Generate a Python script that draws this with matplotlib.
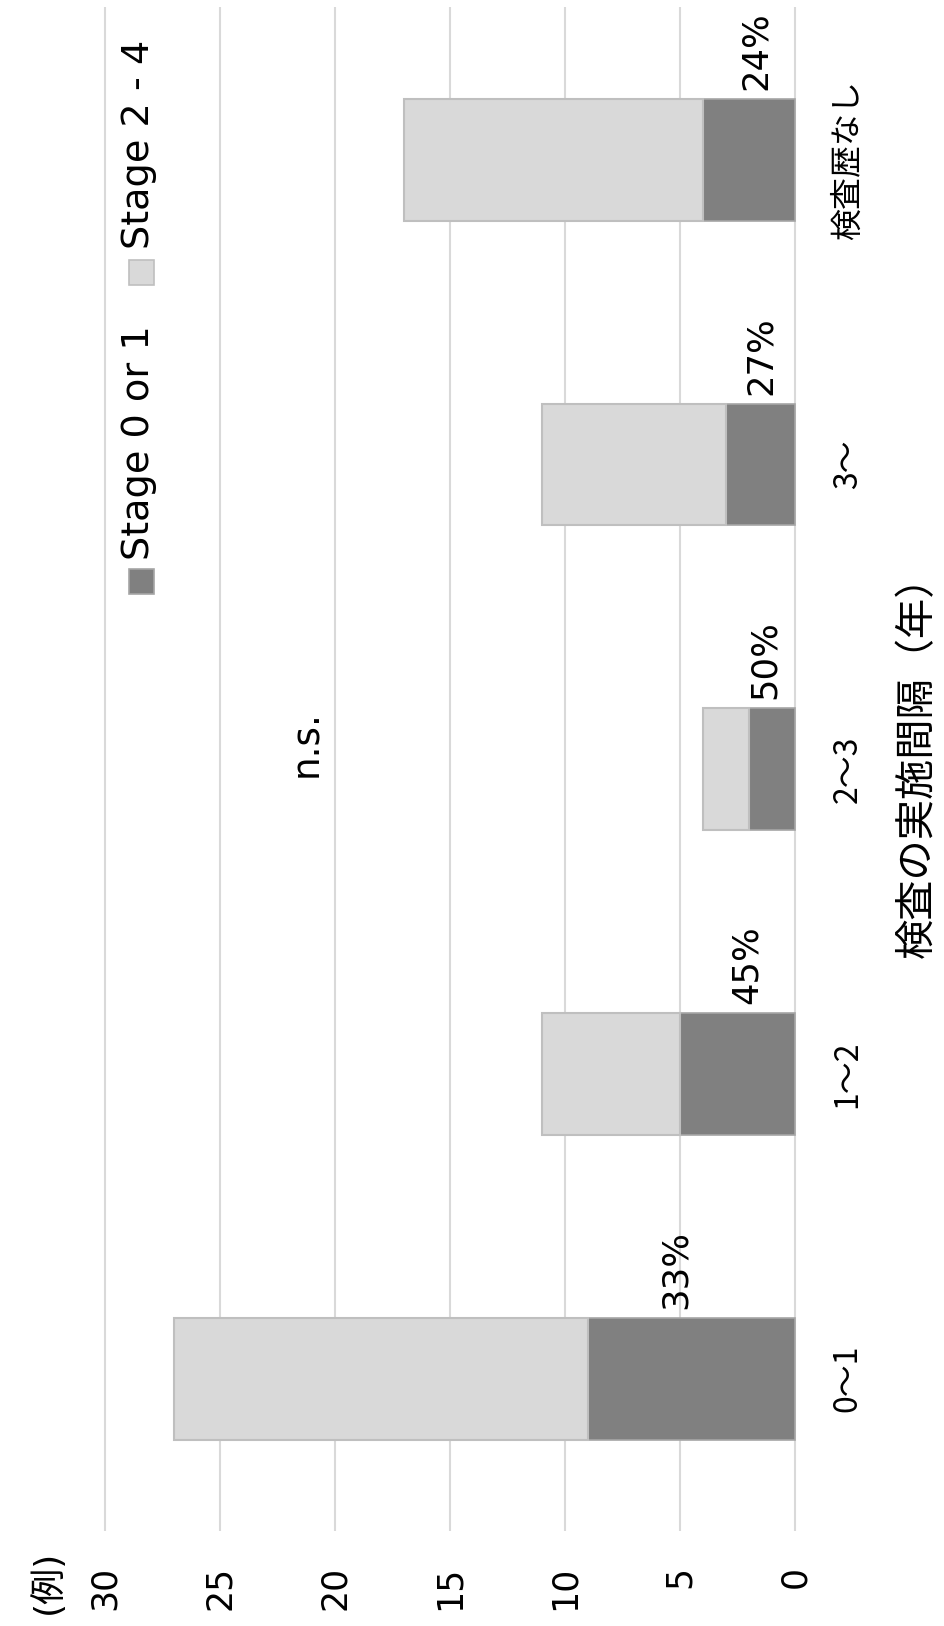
import matplotlib
matplotlib.use("Agg")
import matplotlib.pyplot as plt
from matplotlib.patches import Rectangle
import numpy as np

plt.rcParams['font.family'] = ['DejaVu Sans', 'Noto Sans CJK JP']

# Data
categories = ['0～1', '1～2', '2～3', '3～', '検査歴なし']
series_names = ['Stage 0 or 1', 'Stage 2 - 4']
early = [9, 5, 2, 3, 4]        # Stage 0 or 1
advanced = [18, 6, 2, 8, 13]   # Stage 2 - 4
value_ticks = [0, 5, 10, 15, 20, 25, 30]
# where each percentage label sits along the value axis
pct_label_x = [5.2, 2.1, 1.3, 1.5, 1.7]

W, H = 944, 1626
fig = plt.figure(figsize=(W / 100, H / 100), dpi=100)


def fx(x):
    return x / W


def fy(y):
    return 1 - y / H


# Axes laid out sideways: values run right-to-left, categories bottom-to-top
x30, x0 = 105, 795
ytop, ybot = 7.5, 1531
ax = fig.add_axes([fx(x30 - 2), fy(ybot), fx(x0 - x30 + 4), (ybot - ytop) / H])
span = 30 / (x0 - x30) * 2
ax.set_xlim(30 + span, 0 - span)
ax.set_ylim(-0.5, 4.5)

dark_c, light_c = '#808080', '#d9d9d9'
pos = np.arange(len(categories))
ax.barh(pos, early, height=0.4, color=dark_c, edgecolor='#a6a6a6', linewidth=1.2,
        label=series_names[0], zorder=3)
ax.barh(pos, advanced, left=early, height=0.4, color=light_c, edgecolor='#bfbfbf',
        linewidth=1.5, label=series_names[1], zorder=3)

for s in ax.spines.values():
    s.set_visible(False)
ax.set_xticks(value_ticks)
ax.set_xticklabels([str(v) for v in value_ticks], rotation=90, fontsize=25)
ax.tick_params(axis='x', length=0, pad=25)
ax.grid(axis='x', color='#d9d9d9', linewidth=1.5, zorder=0)
ax.set_axisbelow(True)

ax.yaxis.tick_right()
ax.set_yticks(pos)
ax.set_yticklabels(categories, rotation=90, fontsize=23, va='center',
                   family='Noto Sans CJK JP')
ax.tick_params(axis='y', length=0, pad=25)

# Share of Stage 0 or 1 per interval
for i, (a, b) in enumerate(zip(early, advanced)):
    pct = round(a / (a + b) * 100)
    ax.annotate(f'{pct}%', xy=(pct_label_x[i], i + 0.2), xytext=(0, 6.5),
                textcoords='offset points', rotation=90, ha='center', va='bottom',
                fontsize=25.5)

ax.text(21.2, 2.085, 'n.s.', rotation=90, ha='center', va='center', fontsize=27)

# Axis titles
fig.text(fx(918), fy(757), '検査の実施間隔（年）', rotation=90, ha='center', va='center',
         fontsize=29)
fig.text(fx(47), fy(1582), '(例)', rotation=90, ha='center', va='center', fontsize=26)

# Legend drawn sideways
legend_items = [(series_names[0], dark_c, '#a6a6a6', 594, 560),
                (series_names[1], light_c, '#bfbfbf', 285, 249)]
for name, fc, ec, sq_bottom, txt_bottom in legend_items:
    fig.patches.append(Rectangle((fx(129), fy(sq_bottom)), fx(25), 25 / H,
                                 facecolor=fc, edgecolor=ec, linewidth=1.2,
                                 transform=fig.transFigure, figure=fig))
    fig.text(fx(139), fy(txt_bottom), name, rotation=90, ha='center', va='bottom',
             fontsize=27.5)

fig.savefig('out.png', dpi=100)
